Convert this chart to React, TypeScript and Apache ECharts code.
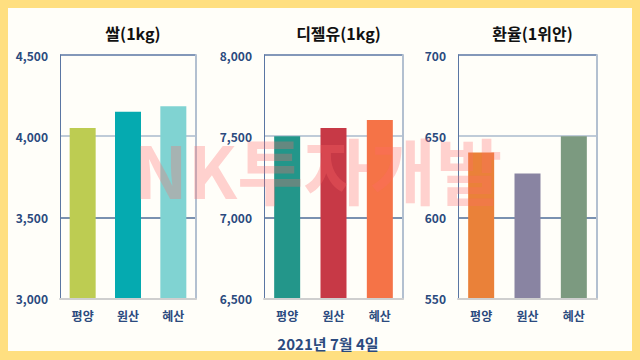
import React, { useEffect, useRef } from "react";
import * as echarts from "echarts";

const categories = ["평양", "원산", "혜산"];
const titles = ["쌀(1kg)", "디젤유(1kg)", "환율(1위안)"];
const riceValues = [4050, 4150, 4185];
const dieselValues = [7500, 7550, 7600];
const rateValues = [640, 627, 650];
const riceColors = ["#BDCC52", "#05AAB0", "#80D3D2"];
const dieselColors = ["#23968A", "#C73946", "#F57347"];
const rateColors = ["#EA8139", "#8984A2", "#7C9A80"];
const axisRanges = [
  { min: 3000, max: 4500, interval: 500 },
  { min: 6500, max: 8000, interval: 500 },
  { min: 550, max: 700, interval: 50 },
];
const dateLabel = "2021년 7월 4일";
const watermark = "NK투자개발";

const FONT = "'Noto Sans CJK KR', 'Noto Sans', sans-serif";

export default function App() {
  const ref = useRef<HTMLDivElement>(null);
  useEffect(() => {
    if (!ref.current) return;
    const chart = echarts.init(ref.current, null, { renderer: "svg" });
    const grids = [
      { left: 60, width: 136, top: 55, height: 243.5 },
      { left: 264, width: 139, top: 55, height: 243.5 },
      { left: 458, width: 139, top: 55, height: 243.5 },
    ];
    const values = [riceValues, dieselValues, rateValues];
    const colors = [riceColors, dieselColors, rateColors];
    const xAxis: any[] = [];
    const yAxis: any[] = [];
    const series: any[] = [];
    const titleArr: any[] = [];
    grids.forEach((g, i) => {
      xAxis.push({
        type: "category",
        gridIndex: i,
        data: categories,
        axisLine: { show: true, lineStyle: { color: "#CFCFCF", width: 2 } },
        axisTick: { show: false },
        axisLabel: {
          color: "#2B4A7E",
          fontWeight: "bold",
          fontSize: 12,
          fontFamily: FONT,
          margin: 11,
        },
        z: 5,
      });
      yAxis.push({
        type: "value",
        gridIndex: i,
        min: axisRanges[i].min,
        max: axisRanges[i].max,
        interval: axisRanges[i].interval,
        axisLine: { show: true, lineStyle: { color: "#5A76A3", width: 1 } },
        axisTick: { show: false },
        axisLabel: {
          color: "#2B4A7E",
          fontWeight: "bold",
          fontSize: 12,
          fontFamily: FONT,
          margin: 12,
          formatter: (v: number) => v.toLocaleString("en-US"),
        },
        splitLine: {
          show: true,
          lineStyle: {
            color: ["#CFCFCF", "#4E6C97", "#AABACD", "#5A76A3"],
            width: 1.5,
          },
        },
      });
      yAxis.push({
        type: "value",
        gridIndex: i,
        position: "right",
        min: axisRanges[i].min,
        max: axisRanges[i].max,
        interval: axisRanges[i].interval,
        axisLine: { show: true, lineStyle: { color: "#B3C0D0", width: 2 } },
        axisTick: { show: false },
        axisLabel: { show: false },
        splitLine: { show: false },
      });
      series.push({
        type: "bar",
        xAxisIndex: i,
        yAxisIndex: i * 2,
        barWidth: 26,
        data: values[i].map((v, j) => ({ value: v, itemStyle: { color: colors[i][j] } })),
        z: 3,
      });
      titleArr.push({
        text: titles[i],
        left: g.left + g.width / 2,
        top: 20,
        textAlign: "center",
        textStyle: { color: "#111", fontSize: 16, fontWeight: "bold", fontFamily: FONT },
      });
    });
    titleArr.push({
      text: dateLabel,
      left: 323,
      top: 331,
      textAlign: "center",
      textStyle: { color: "#2B4A7E", fontSize: 15, fontWeight: "bold", fontFamily: FONT },
    });
    chart.setOption({
      animation: false,
      backgroundColor: "#FFDF80",
      title: titleArr,
      grid: grids,
      xAxis,
      yAxis,
      series,
      graphic: [
        {
          type: "rect",
          shape: { x: 8, y: 8, width: 624, height: 343 },
          style: { fill: "#FFFEF9" },
          z: -10,
          silent: true,
        },
        {
          type: "text",
          x: 318,
          y: 167,
          style: {
            text: watermark,
            fill: "rgba(255, 105, 105, 0.3)",
            font: `bold 72px ${FONT}`,
            textAlign: "center",
            textVerticalAlign: "middle",
          },
          z: 100,
          silent: true,
        },
      ],
    });
    return () => chart.dispose();
  }, []);
  return (
    <div
      ref={ref}
      style={{ position: "fixed", left: 0, top: 0, width: 640, height: 360 }}
    />
  );
}
